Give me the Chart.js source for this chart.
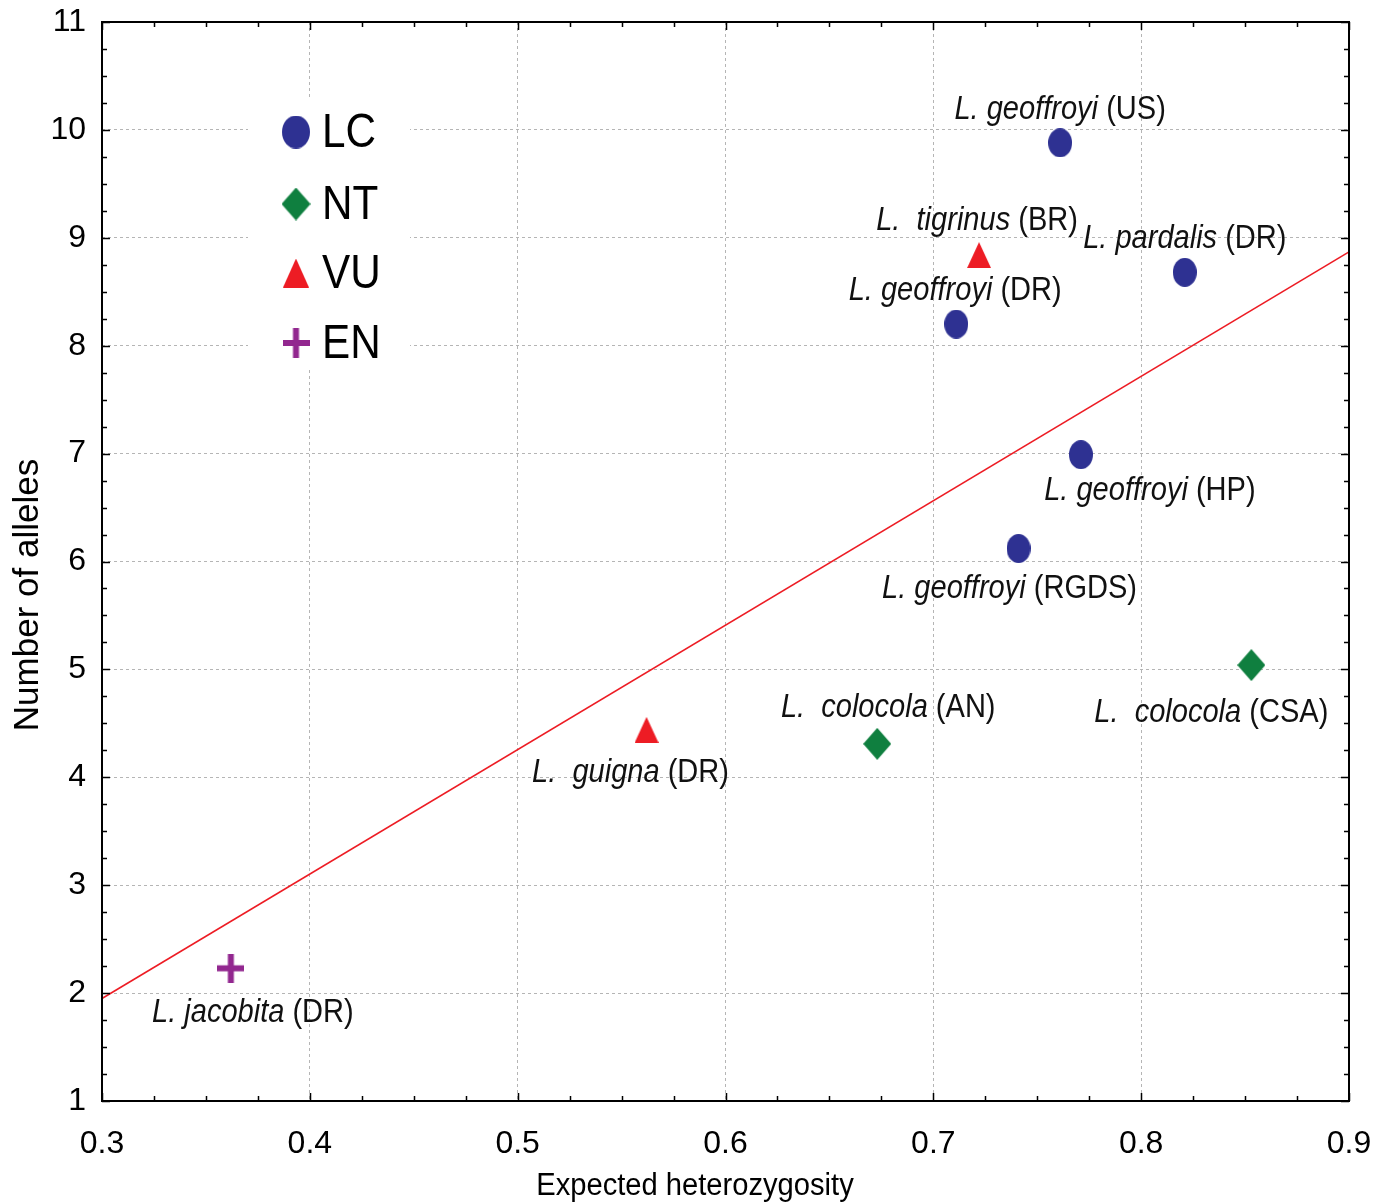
<!DOCTYPE html>
<html>
<head>
<meta charset="utf-8">
<script src="https://cdn.jsdelivr.net/npm/chart.js@4.4.0/dist/chart.umd.min.js"></script>
<style>
  body { margin: 0; background: #fff; }
  #wrap { width: 1381px; height: 1202px; }
</style>
</head>
<body>
<div id="wrap"><canvas id="grafico"></canvas></div>
<script>
// datos
const genus = ["L. geoffroyi", "L.  tigrinus", "L. pardalis", "L. geoffroyi", "L. geoffroyi",
               "L. geoffroyi", "L.  colocola", "L.  colocola", "L.  guigna", "L. jacobita"];
const site = ["(US)", "(BR)", "(DR)", "(DR)", "(HP)", "(RGDS)", "(CSA)", "(AN)", "(DR)", "(DR)"];
const heterozygosity = [0.761, 0.722, 0.821, 0.711, 0.771, 0.741, 0.853, 0.673, 0.562, 0.362];
const alleles = [9.88, 8.84, 8.68, 8.20, 6.99, 6.12, 5.04, 4.31, 4.44, 2.23];
const status = ["LC", "VU", "LC", "LC", "LC", "LC", "NT", "NT", "VU", "EN"];
const categories = ["LC", "NT", "VU", "EN"];
const trendX = [0.3, 0.9];
const trendY = [1.95, 8.87];
const xTicks = [0.3, 0.4, 0.5, 0.6, 0.7, 0.8, 0.9];
const yTicks = [1, 2, 3, 4, 5, 6, 7, 8, 9, 10, 11];
const xTitle = "Expected heterozygosity";
const yTitle = "Number of alleles";

// posicion de cada etiqueta respecto a su punto (px)
const labelOffset = [[0, -24], [-2, -25], [0, -24], [-1, -24], [69, 45],
                     [-9, 49], [-40, 57], [11, -27], [-16, 52], [22, 54]];

const colores = { LC: "#2e3192", NT: "#0f7f3f", VU: "#ed1c24", EN: "#92278f" };
const FONT = "'Liberation Sans', Arial, sans-serif";
const ESTRECHO = 0.88; // el original usa una letra condensada

function marcador(tipo, w, h) {
  const c = document.createElement("canvas");
  c.width = w; c.height = h;
  const g = c.getContext("2d");
  g.fillStyle = colores[tipo];
  if (tipo === "LC") {
    g.beginPath(); g.ellipse(w / 2, h / 2, w / 2, h / 2, 0, 0, Math.PI * 2); g.fill();
  } else if (tipo === "NT") {
    g.beginPath(); g.moveTo(w / 2, 0); g.lineTo(w, h / 2); g.lineTo(w / 2, h); g.lineTo(0, h / 2);
    g.closePath(); g.fill();
  } else if (tipo === "VU") {
    g.beginPath(); g.moveTo(w / 2, 0); g.lineTo(w, h); g.lineTo(0, h); g.closePath(); g.fill();
  } else {
    const t = Math.round(w * 0.23);
    g.fillRect(0, h / 2 - t / 2, w, t);
    g.fillRect(w / 2 - t / 2, 0, t, h);
  }
  return c;
}

const tamPunto = { LC: [24, 29], NT: [28, 32], VU: [24, 26], EN: [27, 29] };
const tamLeyenda = { LC: [28, 33], NT: [29, 33], VU: [26, 29], EN: [27, 30] };

const datasets = categories.map(cat => ({
  type: "scatter",
  label: cat,
  data: heterozygosity.map((x, i) => ({ x: x, y: alleles[i], idx: i })).filter(p => status[p.idx] === cat),
  pointStyle: marcador(cat, tamPunto[cat][0], tamPunto[cat][1]),
  pointRadius: 14,
  pointHoverRadius: 14
}));

datasets.unshift({
  type: "line",
  label: "trend",
  data: trendX.map((x, i) => ({ x: x, y: trendY[i] })),
  borderColor: "#ed1c24",
  borderWidth: 1.5,
  pointRadius: 0,
  fill: false
});

function textoEstrecho(ctx, txt, x, y, k) {
  ctx.save();
  ctx.translate(x, y);
  ctx.scale(k || ESTRECHO, 1);
  ctx.fillText(txt, 0, 0);
  ctx.restore();
}

// marco, marcas hacia dentro, leyenda, titulos y etiquetas
const extras = {
  id: "extras",
  afterDraw(chart) {
    const ctx = chart.ctx;
    const xs = chart.scales.x, ys = chart.scales.y;
    const a = chart.chartArea;
    ctx.save();

    // etiquetas
    ctx.textBaseline = "alphabetic";
    ctx.fillStyle = "#111";
    genus.forEach((gname, i) => {
      const px = xs.getPixelForValue(heterozygosity[i]);
      const py = ys.getPixelForValue(alleles[i]);
      ctx.font = "italic 33px " + FONT;
      const w1 = ctx.measureText(gname).width * ESTRECHO;
      ctx.font = "33px " + FONT;
      const w2 = ctx.measureText(" " + site[i]).width * ESTRECHO;
      const x0 = px + labelOffset[i][0] - (w1 + w2) / 2;
      const y0 = py + labelOffset[i][1];
      ctx.font = "italic 33px " + FONT;
      textoEstrecho(ctx, gname, x0, y0);
      ctx.font = "33px " + FONT;
      textoEstrecho(ctx, " " + site[i], x0 + w1, y0);
    });

    // titulos de los ejes
    ctx.fillStyle = "#000";
    ctx.textAlign = "center";
    ctx.textBaseline = "middle";
    ctx.font = "31px " + FONT;
    textoEstrecho(ctx, xTitle, 695, 1186, 0.94);
    ctx.save();
    ctx.translate(28, 595);
    ctx.rotate(-Math.PI / 2);
    ctx.font = "35px " + FONT;
    ctx.fillText(yTitle, 0, 0);
    ctx.restore();
    ctx.textAlign = "left";

    // leyenda
    ctx.fillStyle = "#fff";
    ctx.fillRect(248, 100, 162, 270);
    const ly = [132, 204, 273, 343];
    categories.forEach((cat, i) => {
      const m = marcador(cat, tamLeyenda[cat][0], tamLeyenda[cat][1]);
      ctx.drawImage(m, 296 - m.width / 2, ly[i] - m.height / 2);
      ctx.fillStyle = "#000";
      ctx.font = "48px " + FONT;
      ctx.textBaseline = "middle";
      textoEstrecho(ctx, cat, 322, ly[i] + 2);
    });

    // marco
    ctx.strokeStyle = "#000";
    ctx.lineWidth = 2;
    ctx.strokeRect(a.left, a.top, a.right - a.left, a.bottom - a.top);

    // marcas mayores y menores
    ctx.lineWidth = 1.5;
    ctx.beginPath();
    for (let k = 0; k <= 24; k++) {
      const v = trendX[0] + k * 0.025;
      const p = Math.round(xs.getPixelForValue(v)) + 0.5;
      const len = k % 4 === 0 ? 8 : 5;
      ctx.moveTo(p, a.bottom); ctx.lineTo(p, a.bottom - len);
      ctx.moveTo(p, a.top); ctx.lineTo(p, a.top + len);
    }
    for (let k = 0; k <= 40; k++) {
      const v = yTicks[0] + k * 0.25;
      const p = Math.round(ys.getPixelForValue(v)) + 0.5;
      const len = k % 4 === 0 ? 8 : 5;
      ctx.moveTo(a.left, p); ctx.lineTo(a.left + len, p);
      ctx.moveTo(a.right, p); ctx.lineTo(a.right - len, p);
    }
    ctx.stroke();
    ctx.restore();
  }
};

new Chart(document.getElementById("grafico"), {
  data: { datasets: datasets },
  options: {
    responsive: true,
    maintainAspectRatio: false,
    animation: false,
    layout: { padding: { top: 22, right: 32, left: 0, bottom: 0 } },
    plugins: { legend: { display: false }, tooltip: { enabled: false } },
    scales: {
      x: {
        type: "linear",
        min: xTicks[0],
        max: xTicks[xTicks.length - 1],
        afterBuildTicks: s => { s.ticks = xTicks.map(v => ({ value: v })); },
        afterFit: s => { s.height = 101; s.paddingLeft = 0; s.paddingRight = 0; },
        ticks: {
          padding: 24,
          color: "#000",
          font: { family: FONT, size: 32 },
          maxRotation: 0,
          callback: v => v.toFixed(1)
        },
        grid: { color: "#b5b5b5", lineWidth: 1, drawTicks: false },
        border: { display: false, dash: [3, 3] },
        title: { display: false }
      },
      y: {
        type: "linear",
        min: yTicks[0],
        max: yTicks[yTicks.length - 1],
        afterBuildTicks: s => { s.ticks = yTicks.map(v => ({ value: v })); },
        afterFit: s => { s.width = 102; s.paddingTop = 0; s.paddingBottom = 0; },
        ticks: {
          padding: 16,
          color: "#000",
          font: { family: FONT, size: 32 }
        },
        grid: { color: "#b5b5b5", lineWidth: 1, drawTicks: false },
        border: { display: false, dash: [3, 3] },
        title: { display: false }
      }
    }
  },
  plugins: [extras]
});
</script>
</body>
</html>
